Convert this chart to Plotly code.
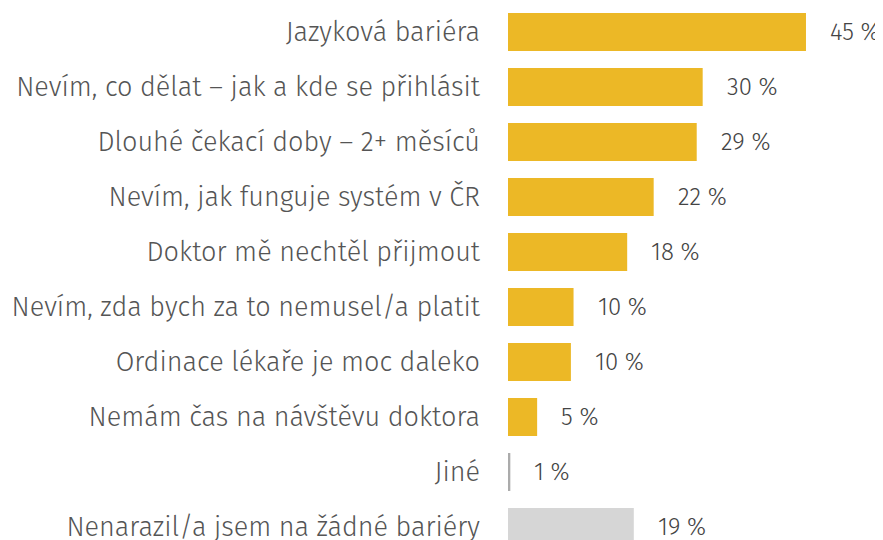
import plotly.graph_objects as go

categories = [
    "Jazyková bariéra",
    "Nevím, co dělat – jak a kde se přihlásit",
    "Dlouhé čekací doby – 2+ měsíců",
    "Nevím, jak funguje systém v ČR",
    "Doktor mě nechtěl přijmout",
    "Nevím, zda bych za to nemusel/a platit",
    "Ordinace lékaře je moc daleko",
    "Nemám čas na návštěvu doktora",
    "Jiné",
    "Nenarazil/a jsem na žádné bariéry",
]
values = [45.0, 29.4, 28.5, 22.0, 18.0, 9.9, 9.5, 4.4, 0.35, 19.0]
labels = ["45 %", "30 %", "29 %", "22 %", "18 %", "10 %", "10 %", "5 %", "1 %", "19 %"]
colors = ["#ECB826"] * 8 + ["#ABABAB", "#D6D6D6"]

pos = list(range(len(categories)))
FONT = "Fira Sans Light, Fira Sans, Open Sans, sans-serif"

fig = go.Figure()
fig.add_trace(go.Bar(
    x=values, y=pos, orientation="h",
    marker=dict(color=colors, line=dict(width=0)),
    width=0.69, hoverinfo="skip",
))

for p, v, t in zip(pos, values, labels):
    fig.add_annotation(x=v, y=p, text=t, showarrow=False, xanchor="left",
                       xshift=22, font=dict(size=24, color="#444444", family=FONT))

fig.update_layout(
    width=883, height=540,
    margin=dict(l=500, r=0, t=0, b=0),
    paper_bgcolor="white", plot_bgcolor="white",
    showlegend=False,
    font=dict(family=FONT),
    xaxis=dict(range=[0, 57.84], visible=False, fixedrange=True),
    yaxis=dict(range=[9.382, -0.436], tickvals=pos, ticktext=categories,
               showgrid=False, zeroline=False, showline=False, ticks="",
               ticklabelstandoff=27,
               tickfont=dict(size=27, color="#555555", family=FONT)),
)

fig.write_html("out.html")
